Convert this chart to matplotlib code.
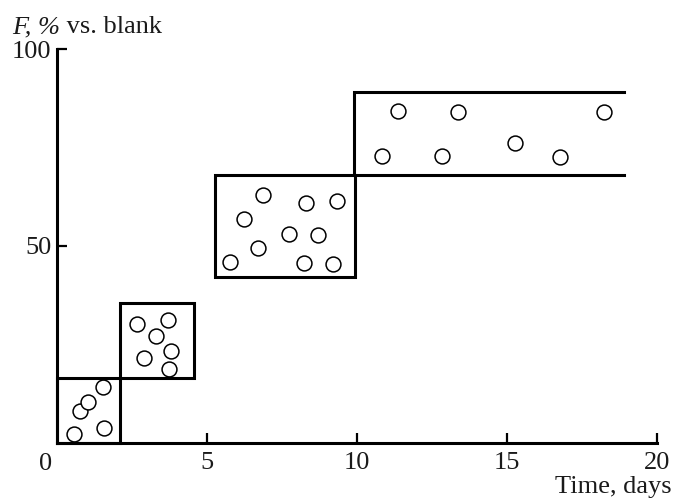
import matplotlib
matplotlib.use("Agg")
import matplotlib.pyplot as plt
from matplotlib.patches import Rectangle

plt.rcParams['font.family'] = ['Liberation Serif', 'DejaVu Serif']

# Data: circles (time, F)
x_pts = [0.58, 0.75, 1.04, 1.54, 1.57,
         2.67, 3.70, 3.29, 3.80, 2.89, 3.73,
         6.85, 6.23, 8.31, 9.33, 7.74, 8.69, 6.71, 5.78, 8.23, 9.20,
         11.35, 13.35, 18.23, 10.84, 12.84, 15.27, 16.78]
y_pts = [2.2, 8.1, 10.4, 14.1, 3.7,
         30.1, 31.2, 27.0, 23.4, 21.4, 18.6,
         63.0, 56.9, 61.0, 61.3, 53.0, 52.8, 49.5, 45.9, 45.6, 45.5,
         84.3, 84.0, 84.0, 72.8, 72.8, 76.1, 72.5]

# Boxes (ranges)
box_x0 = [0.0, 2.11, 5.28, 9.91]
box_x1 = [2.11, 4.55, 9.92, 18.9]
box_y0 = [0.0, 16.4, 42.0, 68.0]
box_y1 = [16.4, 35.6, 68.0, 89.0]

xticks = [5, 10, 15, 20]
yticks = [50, 100]

txt_color = '#1a1a1a'
fig = plt.figure(figsize=(6.73, 5.0), dpi=100)
ax = fig.add_axes([57/673, 1-442.7/500, 600/673, (442.7-49)/500])
ax.set_xlim(0, 20)
ax.set_ylim(0, 100)

lw = 2.2
for i in range(3):
    ax.add_patch(Rectangle((box_x0[i], box_y0[i]), box_x1[i]-box_x0[i], box_y1[i]-box_y0[i],
                           fill=False, edgecolor='black', linewidth=lw, clip_on=False,
                           joinstyle='miter', zorder=2))
# open-ended last box
ax.plot([box_x1[3], box_x0[3], box_x0[3], box_x1[3]],
        [box_y1[3], box_y1[3], box_y0[3], box_y0[3]],
        color='black', linewidth=lw, solid_joinstyle='miter', clip_on=False, zorder=2)

ax.plot(x_pts, y_pts, 'o', markersize=10.7, markerfacecolor='white',
        markeredgecolor='black', markeredgewidth=1.1, linestyle='none', zorder=3, clip_on=False)

for s in ['top', 'right']:
    ax.spines[s].set_visible(False)
for s in ['left', 'bottom']:
    ax.spines[s].set_linewidth(lw)

ax.set_xticks(xticks)
ax.set_xticklabels([str(t) for t in xticks])
ax.set_yticks(yticks)
ax.set_yticklabels([str(t) for t in yticks])
ax.tick_params(direction='in', length=7, width=1.6, labelsize=19, colors='black',
               labelcolor=txt_color)
ax.tick_params(axis='x', pad=7)
ax.tick_params(axis='y', pad=4)

ax.annotate('0', xy=(0, 0), xytext=(-8.4, -7.2), textcoords='offset points',
            ha='center', va='top', fontsize=19, color=txt_color, annotation_clip=False)

t1 = fig.text(11.7/673, 1-33/500, 'F, %', fontsize=19, style='italic',
              color=txt_color, ha='left', va='baseline')
fig.text(0, 0, ' vs. blank', fontsize=19, color=txt_color, ha='left', va='bottom')
fig.texts[-1].remove()
ax.annotate(' vs. blank', xy=(1, 0), xycoords=t1, ha='left', va='bottom',
            fontsize=19, color=txt_color, annotation_clip=False)
fig.text(672/673, 1-492.5/500, 'Time, days', fontsize=19, color=txt_color,
         ha='right', va='baseline')

fig.savefig('out.png', dpi=100)
